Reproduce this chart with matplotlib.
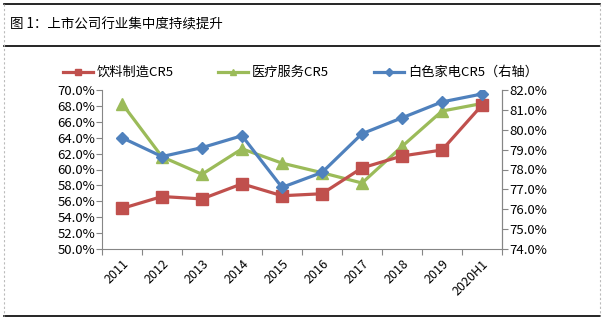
import matplotlib
matplotlib.use("Agg")
import matplotlib.pyplot as plt
from matplotlib.lines import Line2D
from matplotlib.ticker import FuncFormatter, MultipleLocator

plt.rcParams['font.family'] = ['Noto Sans CJK SC', 'DejaVu Sans']

years = ['2011', '2012', '2013', '2014', '2015', '2016', '2017', '2018', '2019', '2020H1']
drink_cr5 = [55.1, 56.6, 56.3, 58.2, 56.7, 56.95, 60.2, 61.7, 62.45, 68.1]
medical_cr5 = [68.3, 61.6, 59.4, 62.6, 60.8, 59.6, 58.3, 62.9, 67.35, 68.3]
appliance_cr5 = [79.6, 78.65, 79.1, 79.7, 77.1, 77.85, 79.8, 80.6, 81.4, 81.8]

RED = '#C0504D'
GREEN = '#9BBB59'
BLUE = '#4F81BD'
AXIS = '#868686'

W, H = 608, 323
fig = plt.figure(figsize=(W / 100, H / 100), dpi=100)


def fx(px):
    return px / W


def fy(py):
    return 1 - py / H


# outer frame: solid rules at top, under the title and at the bottom
for y in (4, 46, 316):
    fig.add_artist(Line2D([fx(4), fx(600)], [fy(y), fy(y)], color='black', lw=1.2))
for x in (4, 600):
    fig.add_artist(Line2D([fx(x), fx(x)], [fy(4), fy(316)], color='#BBBBBB',
                          lw=0.8, ls=(0, (2, 2))))

fig.text(fx(10), fy(25), '图 1：上市公司行业集中度持续提升', fontsize=9.7,
         va='center', ha='left')

ax = fig.add_axes([fx(102), fy(249), fx(400), 159 / H])
ax2 = ax.twinx()

x = list(range(len(years)))
ax.plot(x, drink_cr5, color=RED, lw=2.3, marker='s', ms=8, mec=RED, zorder=3)
ax.plot(x, medical_cr5, color=GREEN, lw=2.3, marker='^', ms=8.5, mec=GREEN, zorder=2)
ax2.plot(x, appliance_cr5, color=BLUE, lw=2.3, marker='D', ms=6.5, mec=BLUE)

ax.set_ylim(50, 70)
ax.yaxis.set_major_locator(MultipleLocator(2))
ax.yaxis.set_major_formatter(FuncFormatter(lambda v, p: f'{v:.1f}%'))
ax2.set_ylim(74, 82)
ax2.yaxis.set_major_locator(MultipleLocator(1))
ax2.yaxis.set_major_formatter(FuncFormatter(lambda v, p: f'{v:.1f}%'))

ax.set_xlim(-0.5, len(years) - 0.5)
ax.set_xticks([i - 0.5 for i in range(len(years) + 1)])
ax.set_xticklabels([])
ax.set_xticks(x, minor=True)
ax.set_xticklabels(years, minor=True, rotation=45, ha='right', va='top',
                   rotation_mode='anchor', fontsize=9)
ax.tick_params(axis='x', which='minor', length=0, pad=6)
ax.tick_params(axis='x', which='major', length=4, color=AXIS)

for a in (ax, ax2):
    a.spines['top'].set_visible(False)
    for s in ('left', 'right', 'bottom'):
        a.spines[s].set_color(AXIS)
    a.tick_params(axis='y', length=4, color=AXIS, labelsize=9.5, pad=1)
ax2.spines['left'].set_visible(False)
ax2.spines['bottom'].set_visible(False)

# legend row: short line with a small marker, then the label
legend_items = [
    (63, RED, 's', 4.5, '饮料制造CR5'),
    (218, GREEN, '^', 5, '医疗服务CR5'),
    (374, BLUE, 'D', 4, '白色家电CR5（右轴）'),
]
for x0, color, marker, ms, label in legend_items:
    fig.add_artist(Line2D([fx(x0), fx(x0 + 30)], [fy(72), fy(72)], color=color, lw=2.3))
    fig.add_artist(Line2D([fx(x0 + 15)], [fy(72)], color=color, marker=marker, ms=ms, mec=color))
    fig.text(fx(x0 + 34), fy(72), label, fontsize=9.5, va='center', ha='left')

fig.savefig('out.png', dpi=100)
